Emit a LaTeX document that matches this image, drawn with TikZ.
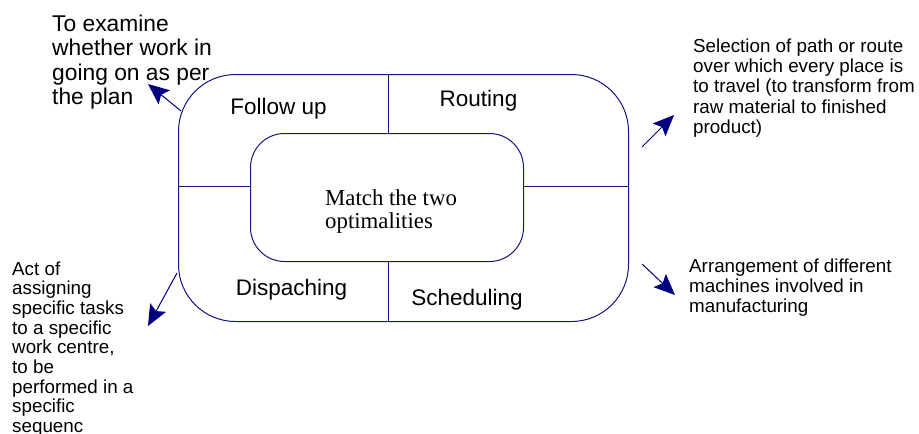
\documentclass[tikz,border=0pt]{standalone}
\usepackage{fontspec}
\setmainfont{Liberation Serif}
\setsansfont{Liberation Sans}
\usetikzlibrary{arrows.meta}
\definecolor{framenavy}{RGB}{20,20,130}
\definecolor{arrownavy}{RGB}{0,0,128}
\tikzset{
  frame/.style={draw=framenavy, line width=1pt},
  divider/.style={draw=framenavy, line width=1pt},
  pointer/.style={draw=arrownavy, line width=1pt,
    -{Stealth[length=21pt,width=18pt,inset=4pt]}},
  quadlabel/.style={font=\sffamily\fontsize{22.5}{24.5}\selectfont, anchor=base, inner sep=0pt},
  % multi-line notes: the base anchor sits on the last line
  bignote/.style={font=\sffamily\fontsize{22.8}{24.6}\selectfont, align=left, anchor=base west, inner sep=0pt},
  smallnote/.style={font=\sffamily\fontsize{18.8}{20.2}\selectfont, align=left, anchor=base west, inner sep=0pt},
  leftnote/.style={font=\sffamily\fontsize{18.8}{19.7}\selectfont, align=left, anchor=base west, inner sep=0pt},
}
\begin{document}
\begin{tikzpicture}[x=1pt,y=-1pt]
\useasboundingbox (0,0) rectangle (919,434);

% outer and inner rounded frames
\draw[frame, rounded corners=57pt] (178.5,74.5) rectangle (628.5,321.5);
\draw[frame, rounded corners=34pt] (250.5,133.5) rectangle (523.5,261.5);
\coordinate (outerTop) at (388.5,74.5);
\coordinate (outerBottom) at (388.5,321.5);
\coordinate (outerLeft) at (178.5,186.5);
\coordinate (outerRight) at (628.5,186.5);
\coordinate (innerTop) at (388.5,133.5);
\coordinate (innerBottom) at (388.5,261.5);
\coordinate (innerLeft) at (250.5,186.5);
\coordinate (innerRight) at (523.5,186.5);

% dividers between the four quadrants
\draw[divider] (outerTop) -- (innerTop);
\draw[divider] (innerBottom) -- (outerBottom);
\draw[divider] (outerLeft) -- (innerLeft);
\draw[divider] (innerRight) -- (outerRight);

% centre text
\node[font=\fontsize{22.8}{23.3}\selectfont, align=left, anchor=base west, inner sep=0pt]
  (centre) at (325,228.3) {Match the two\\optimalities};

% quadrant labels
\node[quadlabel] (follow) at (278.5,114) {Follow up};
\node[quadlabel] (routing) at (478.5,106.5) {Routing};
\node[quadlabel] (dispatch) at (291.5,295) {Dispaching};
\node[quadlabel] (sched) at (467,305) {Scheduling};

% descriptions
\node[bignote] (followNote) at (52,104.8) {To examine\\whether work in\\going on as per\\the plan};
\node[smallnote] (routeNote) at (693,133.3) {Selection of path or route\\over which every place is\\to travel (to transform from\\raw material to finished\\product)};
\node[smallnote] (schedNote) at (689,312.9) {Arrangement of different\\machines involved in\\manufacturing};
\node[leftnote] (dispatchNote) at (12,432.6) {Act of\\assigning\\specific tasks\\to a specific\\work centre,\\to be\\performed in a\\specific\\sequenc};

% pointers from the frame to the descriptions
\coordinate (pFollowA) at (181,111);
\coordinate (pFollowB) at (148,84);
\coordinate (pRouteA) at (642,147);
\coordinate (pRouteB) at (674,115);
\coordinate (pSchedA) at (642,264);
\coordinate (pSchedB) at (675,295);
\coordinate (pDispA) at (177,273);
\coordinate (pDispB) at (148,326);
\draw[pointer] (pFollowA) -- (pFollowB);
\draw[pointer] (pRouteA) -- (pRouteB);
\draw[pointer] (pSchedA) -- (pSchedB);
\draw[pointer] (pDispA) -- (pDispB);
\end{tikzpicture}
\end{document}
